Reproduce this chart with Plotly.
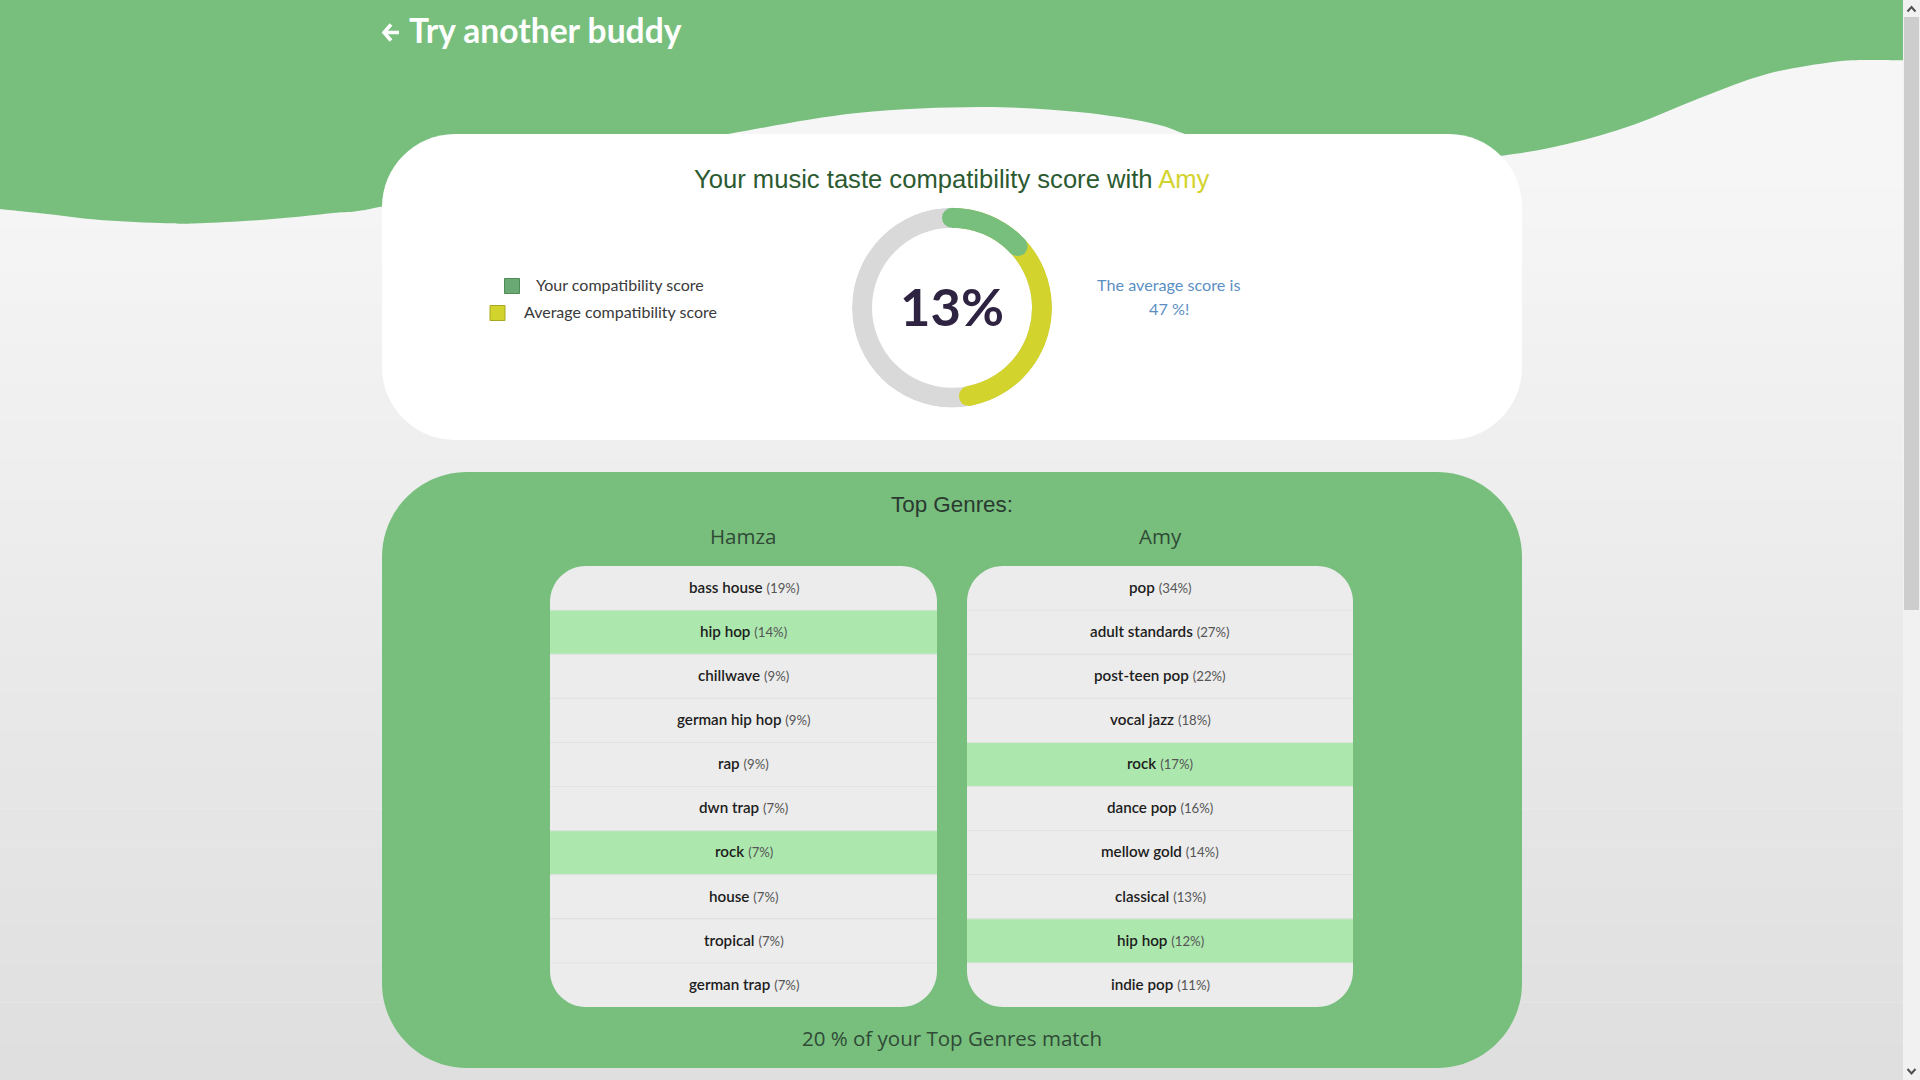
import plotly.graph_objects as go

# ---------- data ----------
your_score = 13
average_score = 47
buddy = "Amy"
user = "Hamza"
match_share = 20
user_genres = ["bass house", "hip hop", "chillwave", "german hip hop", "rap", "dwn trap", "rock", "house", "tropical", "german trap"]
user_shares = [19, 14, 9, 9, 9, 7, 7, 7, 7, 7]
buddy_genres = ["pop", "adult standards", "post-teen pop", "vocal jazz", "rock", "dance pop", "mellow gold", "classical", "hip hop", "indie pop"]
buddy_shares = [34, 27, 22, 18, 17, 16, 14, 13, 12, 11]

# ---------- style ----------
W, H = 1920, 1080
GREEN = "#78BF7E"
YELLOW = "#D3D32E"
GREY = "#D9D9D9"
ROW = "#ECECEC"
HIT = "#ACE8AE"
BODY_FONT = "Lato"
WIDE_FONT = "Open Sans"
HEAD_FONT = "Liberation Sans"

shapes, notes = [], []


def hex2(v):
    return f"#{v:02x}{v:02x}{v:02x}"


def rect(x0, y0, x1, y1, color):
    shapes.append(dict(type="rect", xref="x", yref="y", x0=x0, y0=y0, x1=x1, y1=y1,
                       fillcolor=color, line_width=0, layer="below"))


def rounded(x0, y0, x1, y1, color, rt=0, rb=0):
    k = 0.5523
    p = f"M{x0+rt},{y0} L{x1-rt},{y0} "
    p += f"C{x1-rt+k*rt},{y0} {x1},{y0+rt-k*rt} {x1},{y0+rt} " if rt else ""
    p += f"L{x1},{y1-rb} "
    p += f"C{x1},{y1-rb+k*rb} {x1-rb+k*rb},{y1} {x1-rb},{y1} " if rb else ""
    p += f"L{x0+rb},{y1} "
    p += f"C{x0+rb-k*rb},{y1} {x0},{y1-rb+k*rb} {x0},{y1-rb} " if rb else ""
    p += f"L{x0},{y0+rt} "
    p += f"C{x0},{y0+rt-k*rt} {x0+rt-k*rt},{y0} {x0+rt},{y0} " if rt else ""
    p += "Z"
    shapes.append(dict(type="path", xref="x", yref="y", path=p, fillcolor=color, line_width=0, layer="below"))


def stroke(path, color, width):
    shapes.append(dict(type="path", xref="x", yref="y", path=path, fillcolor="rgba(0,0,0,0)",
                       line=dict(color=color, width=width), layer="below"))


def text(x, y, s, size, color, family=BODY_FONT, anchor="center", weight=None):
    f = dict(size=size, color=color, family=family)
    if weight:
        f["weight"] = weight
    notes.append(dict(xref="x", yref="y", x=x, y=y, text=s, showarrow=False, font=f,
                      xanchor=anchor, yanchor="middle", align="center"))


# page background gradient
BAND = 38.75
rect(0, 0, W, 150, hex2(0xF6))
for i in range(24):
    rect(0, 150 + i * BAND, W, 150 + (i + 1) * BAND, hex2(0xF6 - i))

# wave
knots = [(0, 209), (50, 214.3), (100, 220), (167, 223.3), (200, 223.3), (267, 219.5), (333, 213), (382, 206.5),
         (560, 165), (728, 134),
         (857, 113), (980, 107), (1078, 112), (1151, 123), (1185, 134), (1220, 146), (1300, 160), (1400, 165),
         (1500, 156), (1567, 144), (1633, 125), (1700, 98), (1767, 74), (1833, 62), (1867, 60), (1903, 60.3)]
path = f"M0,0 L0,{knots[0][1]} "
for i in range(len(knots) - 1):
    p0 = knots[max(i - 1, 0)]
    p1 = knots[i]
    p2 = knots[i + 1]
    p3 = knots[min(i + 2, len(knots) - 1)]
    c1 = (p1[0] + (p2[0] - p0[0]) / 6, p1[1] + (p2[1] - p0[1]) / 6)
    c2 = (p2[0] - (p3[0] - p1[0]) / 6, p2[1] - (p3[1] - p1[1]) / 6)
    path += f"C{c1[0]:.1f},{c1[1]:.1f} {c2[0]:.1f},{c2[1]:.1f} {p2[0]},{p2[1]} "
path += "L1903,0 Z"
shapes.append(dict(type="path", xref="x", yref="y", path=path, fillcolor=GREEN, line_width=0, layer="below"))

# cards
rounded(382, 134, 1522, 440, "#FFFFFF", 73, 73)
rounded(382, 472, 1522, 1068, GREEN, 85, 85)

# genre lists
LIST_TOP, LIST_BOTTOM = 566, 1007
ROW_H = (LIST_BOTTOM - LIST_TOP) / len(user_genres)
matches = set(user_genres) & set(buddy_genres)
for x0, x1, names, shares in [(550, 937, user_genres, user_shares), (967, 1353, buddy_genres, buddy_shares)]:
    for i, (name, share) in enumerate(zip(names, shares)):
        y0 = LIST_TOP + i * ROW_H
        y1 = y0 + ROW_H
        color = HIT if name in matches else ROW
        rounded(x0, y0, x1, y1, color, 36 if i == 0 else 0, 36 if i == len(names) - 1 else 0)
        if i:
            shapes.append(dict(type="line", xref="x", yref="y", x0=x0, x1=x1, y0=y0, y1=y0,
                               line=dict(color="#E3E3E3", width=1), layer="below"))
        text((x0 + x1) / 2, y0 + ROW_H / 2 - 1.2,
             f'<span style="font-weight:600;color:#1d1d1d">{name}</span> '
             f'<span style="font-size:13.2px;color:#555555">({share}%)</span>', 15.2, "#222222")

# scrollbar
rect(1903, 0, 1920, 1080, "#F1F1F1")
rect(1904, 17, 1919, 610, "#CDCDCD")
stroke("M1907.5,11.5 L1911.5,7 L1915.5,11.5", "#505050", 2)
stroke("M1907.5,1069 L1911.5,1073.5 L1915.5,1069", "#505050", 2)

# back arrow
stroke("M399,32.5 L384,32.5 M391,24.5 L384,32.5 L391,40.5", "#FFFFFF", 3.5)

# text
text(407, 30, "Try another buddy", 33.6, "#FFFFFF", anchor="left", weight=700)
text(951.5, 179, f'Your music taste compatibility score with <span style="color:{YELLOW}">{buddy}</span>',
     25.6, "#2C5A30", HEAD_FONT)
text(620, 284.5, "Your compatibility score", 16, "#3a3a3a")
text(620, 311.5, "Average compatibility score", 16, "#3a3a3a")
text(1168.5, 284.5, "The average score is", 16.2, "#5B8FC4")
text(1168.5, 308.5, f"{average_score} %!", 16.2, "#5B8FC4")
text(951.5, 305, f"{your_score}%", 52.5, "#2E2340", weight=700)
text(951.5, 504, "Top Genres:", 22.4, "#2A3A30", HEAD_FONT)
text(743, 536, user, 20.5, "#2F4A35", WIDE_FONT)
text(1160, 536, buddy, 20.5, "#2F4A35", WIDE_FONT)
text(951.5, 1038, f"{match_share} % of your Top Genres match", 20.5, "#2F4A35", WIDE_FONT)

fig = go.Figure()

# legend swatches
fig.add_trace(go.Scatter(x=[512, 497.5], y=[286, 313], mode="markers", showlegend=False, hoverinfo="skip",
                         marker=dict(symbol="square", size=15, color=["#6AA874", YELLOW],
                                     line=dict(width=1, color=["#4E8A5A", "#A8A820"]))))

# donut
RING_IN, RING_W = 80, 20
DEG = 3.6


def arc(value, color):
    fig.add_trace(go.Barpolar(r=[RING_W], base=[RING_IN], theta=[value * DEG / 2], width=[value * DEG],
                              marker=dict(color=color, line_width=0), showlegend=False, hoverinfo="skip"))


arc(100, GREY)
arc(average_score, YELLOW)
arc(your_score, GREEN)
for values, color in [([average_score], YELLOW), ([0, your_score], GREEN)]:
    fig.add_trace(go.Scatterpolar(r=[RING_IN + RING_W / 2] * len(values), theta=[v * DEG for v in values],
                                  mode="markers", marker=dict(size=RING_W, color=color, line_width=0),
                                  showlegend=False, hoverinfo="skip"))

CX, CY, R = 952, 307.7, 100
fig.update_layout(
    width=W, height=H, margin=dict(l=0, r=0, t=0, b=0), autosize=False,
    paper_bgcolor="#F0F0F0", plot_bgcolor="rgba(0,0,0,0)",
    xaxis=dict(range=[0, W], visible=False, fixedrange=True),
    yaxis=dict(range=[H, 0], visible=False, fixedrange=True),
    polar=dict(domain=dict(x=[(CX - R) / W, (CX + R) / W], y=[(H - CY - R) / H, (H - CY + R) / H]),
               bgcolor="rgba(0,0,0,0)",
               radialaxis=dict(range=[0, RING_IN + RING_W], visible=False),
               angularaxis=dict(direction="clockwise", rotation=90, visible=False)),
    shapes=shapes, annotations=notes, showlegend=False,
)
fig.write_html("out.html", config=dict(displayModeBar=False),
               post_script="document.body.style.margin='0';document.body.style.overflow='hidden';")
